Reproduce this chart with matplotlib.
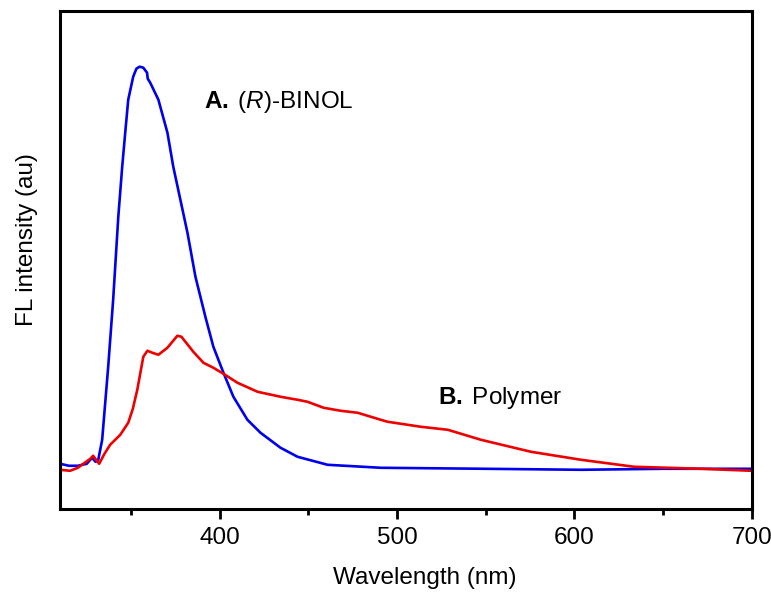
import matplotlib
matplotlib.use('Agg')
import matplotlib.pyplot as plt
from matplotlib.ticker import MultipleLocator

plt.rcParams['font.family'] = ['Liberation Sans', 'DejaVu Sans']
plt.rcParams['mathtext.fontset'] = 'custom'
plt.rcParams['mathtext.rm'] = 'Liberation Sans'
plt.rcParams['mathtext.it'] = 'Liberation Sans:italic'
plt.rcParams['mathtext.bf'] = 'Liberation Sans:bold'

# (R)-BINOL emission (arbitrary units)
binol_nm = [310, 315, 320, 325, 328, 330, 331.5, 333.7, 337.1, 339.9, 342.8, 345, 346.7, 348.4,
            351.2, 353, 354.8, 356.9, 359, 359.4, 360.8, 365.4, 370.5, 373.8, 377.8, 381.8,
            386.3, 391.9, 396.4, 402.1, 407.7, 415.6, 423, 434.3, 443.9, 460.8, 490.8, 550,
            603.8, 650, 700]
binol_fl = [45, 43, 43, 45, 51, 47, 49, 69, 142, 209, 292, 342, 376, 409,
            432, 440, 442, 441, 436, 430, 426, 409, 376, 342, 309, 276,
            232, 192, 162, 136, 112, 89, 76, 61, 52, 44, 41, 40,
            39, 40, 40]

# polymer emission
poly_nm = [310, 315.6, 320, 327, 328.6, 332, 335, 338.2, 343.9, 348.4, 351, 353.5, 356.9, 359.2,
           362, 365.4, 370.5, 376.1, 378.4, 385.1, 390.8, 396.4, 402.1, 410, 421.3, 434.3,
           443.9, 449.5, 458.6, 468.2, 477.8, 490.8, 494.7, 513.4, 528.6, 547.3, 575.5,
           603.8, 633.7, 652.9, 671.6, 700]
poly_fl = [39, 38, 41, 50, 53, 45, 55, 64, 74, 86, 100, 119, 152, 158,
           156, 154, 161, 173, 172, 157, 146, 141, 135, 126, 117, 112,
           109, 107, 101, 98, 96, 89, 87, 82, 79, 69, 57,
           49, 42, 41, 40, 38]

fig = plt.figure(figsize=(7.71, 5.93), dpi=100)
ax = fig.add_axes([0.078, 0.142, 0.897, 0.84])

ax.plot(binol_nm, binol_fl, color='#0000ee', lw=1.9)
ax.plot(poly_nm, poly_fl, color='#ee0000', lw=1.9)

ax.set_xlim(310, 700)
ax.set_ylim(0, 498)

ax.xaxis.set_major_locator(MultipleLocator(100))
ax.xaxis.set_minor_locator(MultipleLocator(50))
ax.tick_params(axis='x', which='major', direction='out', length=7, width=2, labelsize=17.5, pad=6)
ax.tick_params(axis='x', which='minor', direction='out', length=4, width=2)
ax.set_yticks([])
for s in ax.spines.values():
    s.set_linewidth(2.2)

ax.set_xlabel('Wavelength (nm)', fontsize=17.5)
ax.xaxis.set_label_coords(0.527, -0.117)
ax.set_ylabel('FL intensity (au)', fontsize=17.5)
ax.yaxis.set_label_coords(-0.032, 0.54)

ax.text(391, 407, r'$\mathbf{A.}\;$($\mathit{R}$)-BINOL', fontsize=17.5, va='center', ha='left')
ax.text(523, 111, r'$\mathbf{B.}\;$Polymer', fontsize=17.5, va='center', ha='left')

fig.savefig('out.png', dpi=100)
